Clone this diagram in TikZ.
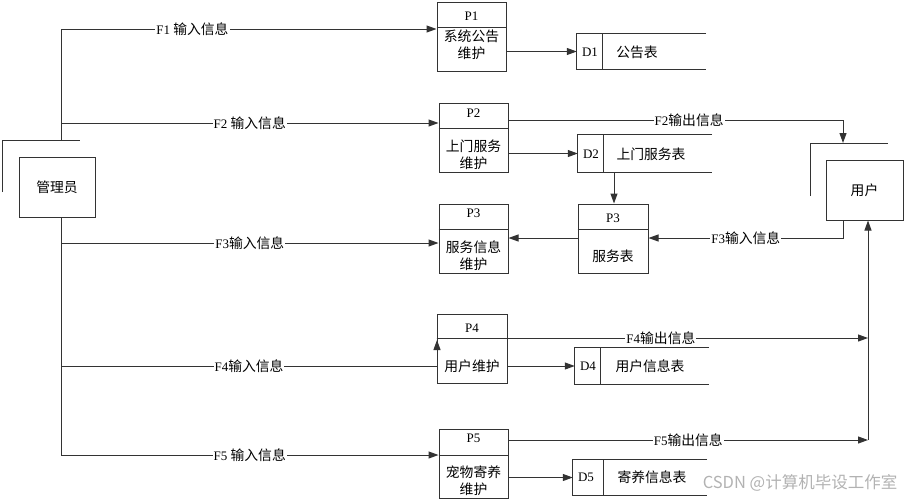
\documentclass[tikz,border=0pt]{standalone}
\usepackage{fontspec}
\setmainfont{Liberation Serif}
\newfontfamily\cjk{Noto Sans CJK SC}
\newcommand{\zh}[1]{{\fontsize{13.8}{17}\selectfont\cjk #1}}
\usetikzlibrary{arrows.meta,calc}
\begin{document}
\begin{tikzpicture}[x=1pt,y=-1pt,
  every node/.style={font=\fontsize{13}{17}\selectfont, inner sep=0pt},
  cj/.style={font=\fontsize{13.8}{17}\selectfont\cjk},
  line/.style={draw=black!80, line width=1pt},
  flow/.style={line, -{Triangle[length=10pt,width=7pt]}},
  proc/.style={line, minimum width=69pt, minimum height=69pt},
  ent/.style={line, minimum width=76pt, minimum height=60pt},
  lbl/.style={fill=white, inner xsep=1pt, inner ysep=1pt}]
\useasboundingbox (0,0) rectangle (907,501);

% external entities
\node[ent, cj] (adm) at (57,187) {管理员};
\draw[line] (2,192) -- (2,140) -- (80,140);
\node[ent, cj, minimum width=77pt] (usr) at (864.5,190) {用户};
\draw[line] (810,196) -- (810,143) -- (888,143);

% processes
\node[proc] (P1) at (471.5,36.5) {};
\draw[line] (P1.west |- 0,27) -- (P1.east |- 0,27);
\node (P1h) at (471.5,16) {P1};
\node[cj, align=center] (P1b) at (471.5,45) {系统公告\\维护};

\node[proc] (P2) at (473.5,137.5) {};
\draw[line] (P2.west |- 0,128) -- (P2.east |- 0,128);
\node (P2h) at (473.5,113) {P2};
\node[cj, align=center] (P2b) at (473.5,155) {上门服务\\维护};

\node[proc] (P3L) at (473.5,238.5) {};
\draw[line] (P3L.west |- 0,229) -- (P3L.east |- 0,229);
\node (P3Lh) at (473.5,213) {P3};
\node[cj, align=center] (P3Lb) at (473.5,256) {服务信息\\维护};

\node[proc, minimum width=70pt] (P3R) at (613,238.5) {};
\draw[line] (P3R.west |- 0,229) -- (P3R.east |- 0,229);
\node (P3Rh) at (613,218) {P3};
\node[cj] (P3Rb) at (613,256) {服务表};

\node[proc, minimum width=70pt] (P4) at (472,348.5) {};
\draw[line] (P4.west |- 0,338) -- (P4.east |- 0,338);
\node (P4h) at (472,328) {P4};
\node[cj] (P4b) at (472,366) {用户维护};

\node[proc] (P5) at (473.5,463.5) {};
\draw[line] (P5.west |- 0,455) -- (P5.east |- 0,455);
\node (P5h) at (473.5,438) {P5};
\node[cj, align=center] (P5b) at (473.5,481) {宠物寄养\\维护};

% data stores
\node[minimum width=129pt, minimum height=35pt] (D1) at (641.5,51.5) {};
\draw[line] (D1.north east) -- (D1.north west) -- (D1.south west) -- (D1.south east);
\draw[line] (D1.north -| 602,0) -- (D1.south -| 602,0);
\node (D1a) at (590,52) {D1};
\node[cj] (D1b) at (637,52) {公告表};

\node[minimum width=134pt, minimum height=37pt] (D2) at (645,153.5) {};
\draw[line] (D2.north east) -- (D2.north west) -- (D2.south west) -- (D2.south east);
\draw[line] (D2.north -| 603,0) -- (D2.south -| 603,0);
\node (D2a) at (591,154) {D2};
\node[cj] (D2b) at (651,154) {上门服务表};

\node[minimum width=134pt, minimum height=36pt] (D4) at (642,366) {};
\draw[line] (D4.north east) -- (D4.north west) -- (D4.south west) -- (D4.south east);
\draw[line] (D4.north -| 600,0) -- (D4.south -| 600,0);
\node (D4a) at (588,366) {D4};
\node[cj] (D4b) at (650,366) {用户信息表};

\node[minimum width=134pt, minimum height=35pt] (D5) at (640,477.5) {};
\draw[line] (D5.north east) -- (D5.north west) -- (D5.south west) -- (D5.south east);
\draw[line] (D5.north -| 603,0) -- (D5.south -| 603,0);
\node (D5a) at (586,477) {D5};
\node[cj] (D5b) at (652,477) {寄养信息表};

% trunk from 管理员
\coordinate (t1) at (61,29);
\coordinate (t2) at (61,123);
\coordinate (t3) at (61,243);
\coordinate (t4) at (61,366);
\coordinate (t5) at (61,455);
\coordinate (tj) at (61,140);
\draw[line] (t1) -- (tj);
\draw[line] (adm.south -| t5) -- (t5);

\draw[flow] (t1) -- node[lbl, pos=0.35]{F1 \zh{输入信息}} (t1 -| P1.west);
\draw[flow] (t2) -- node[lbl]{F2 \zh{输入信息}} (t2 -| P2.west);
\draw[flow] (t3) -- node[lbl]{F3\zh{输入信息}} (t3 -| P3L.west);
\coordinate (p4in) at (437,340);
\draw[flow] (t4) -- node[lbl]{F4\zh{输入信息}} (t4 -| p4in) -- (p4in);
\draw[flow] (t5) -- node[lbl]{F5 \zh{输入信息}} (t5 -| P5.west);

% process to store
\draw[flow] (P1.east |- D1.west) -- (D1.west);
\draw[flow] (P2.east |- D2.west) -- (D2.west);
\draw[flow] (P4.east |- D4.west) -- (D4.west);
\draw[flow] (P5.east |- D5.west) -- (D5.west);

% P2 output to user
\coordinate (c2) at (843,120);
\coordinate (uTop) at (843,143);
\draw[flow] (P2.east |- c2) -- node[lbl, pos=0.54]{F2\zh{输出信息}} (c2) -- (uTop);

% D2 to P3 store, P3 to P3
\coordinate (x614) at (614,0);
\draw[flow] (D2.south -| x614) -- (P3R.north -| x614);
\coordinate (c3) at (843,238);
\draw[flow] (P3R.west |- c3) -- (P3L.east |- c3);
\draw[flow] (usr.south -| c3) -- (c3) -- node[lbl]{F3\zh{输入信息}} (c3 -| P3R.east);

% P4, P5 outputs to user
\coordinate (v4) at (868,338);
\coordinate (v5) at (868,440);
\draw[flow] (P4.west |- v4) -- node[lbl, pos=0.52]{F4\zh{输出信息}} (v4);
\draw[flow] (P5.east |- v5) -- node[lbl]{F5\zh{输出信息}} (v5);
\draw[flow] (v5) -- (usr.south -| v5);

% watermark
\node[font=\fontsize{16.5}{16}\selectfont\cjk, text=black!30] (wm) at (800,483) {CSDN @计算机毕设工作室};
\end{tikzpicture}
\end{document}
